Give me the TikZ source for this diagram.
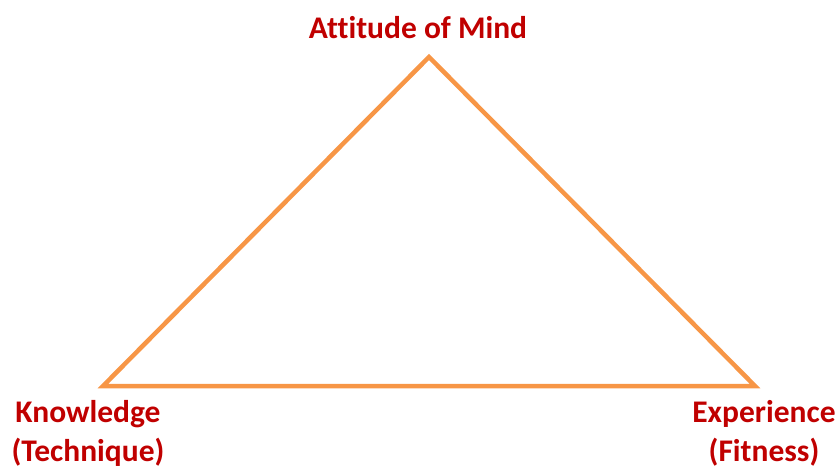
\documentclass[tikz,border=0pt]{standalone}
\usepackage{fontspec}
\setmainfont[Ligatures={NoCommon}]{Carlito}
\definecolor{tri}{HTML}{F79646}
\definecolor{lab}{HTML}{C00000}
\begin{document}
\begin{tikzpicture}[x=1pt,y=-1pt,
  lbl/.style={text=lab,font=\bfseries\fontsize{31.5}{39}\selectfont,align=center,inner sep=0pt}]
\useasboundingbox (0,0) rectangle (840,468);
\coordinate (top) at (429,57);
\coordinate (bl) at (103,386);
\coordinate (br) at (755,386);
\draw[tri,line width=4.5pt,line join=miter] (top) -- (br) -- (bl) -- cycle;
\node[lbl] (mind) at (418,28) {Attitude of Mind};
\node[lbl] (know) at (88,433) {Knowledge\\(Technique)};
\node[lbl] (exp) at (764,433) {Experience\\(Fitness)};
\end{tikzpicture}
\end{document}
